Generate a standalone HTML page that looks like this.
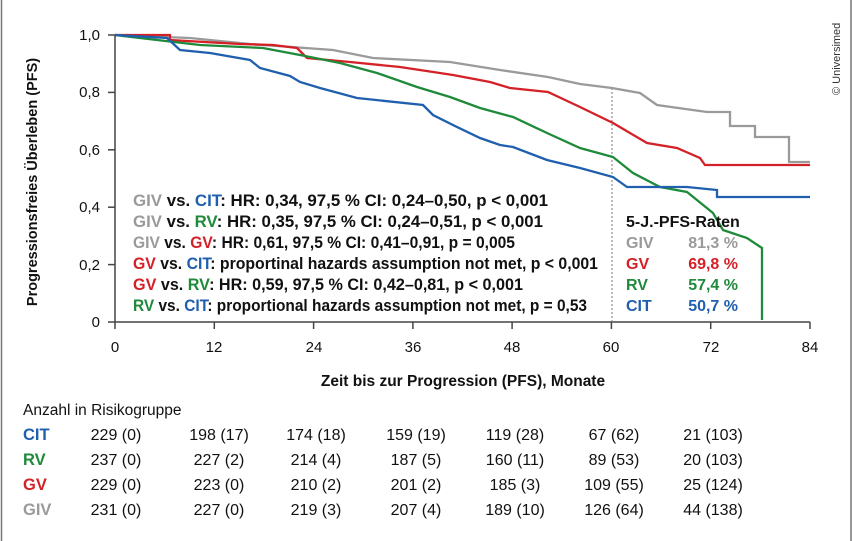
<!DOCTYPE html>
<html><head><meta charset="utf-8"><style>
html,body{margin:0;padding:0;background:#fff;}
svg{display:block;font-family:"Liberation Sans",sans-serif;}
</style></head><body>
<svg width="854" height="541" viewBox="0 0 854 541" xmlns="http://www.w3.org/2000/svg">
<rect x="0" y="0" width="854" height="541" fill="#fff"/>
<line x1="1.5" y1="0" x2="1.5" y2="541" stroke="#777" stroke-width="1.5"/>
<line x1="851" y1="0" x2="851" y2="541" stroke="#777" stroke-width="1.5"/>
<text transform="translate(840,95) rotate(-90)" font-size="11" fill="#333">© Universimed</text>

<g stroke="#444" stroke-width="1.5" fill="none">
<line x1="115" y1="35" x2="115" y2="322"/>
<line x1="115" y1="322" x2="810" y2="322"/>
<line x1="108" y1="35" x2="115" y2="35"/>
<line x1="108" y1="92.4" x2="115" y2="92.4"/>
<line x1="108" y1="149.8" x2="115" y2="149.8"/>
<line x1="108" y1="207.2" x2="115" y2="207.2"/>
<line x1="108" y1="264.6" x2="115" y2="264.6"/>
<line x1="108" y1="322" x2="115" y2="322"/>
<line x1="115" y1="322" x2="115" y2="329"/>
<line x1="214.3" y1="322" x2="214.3" y2="329"/>
<line x1="313.6" y1="322" x2="313.6" y2="329"/>
<line x1="412.9" y1="322" x2="412.9" y2="329"/>
<line x1="512.1" y1="322" x2="512.1" y2="329"/>
<line x1="611.4" y1="322" x2="611.4" y2="329"/>
<line x1="710.7" y1="322" x2="710.7" y2="329"/>
<line x1="810" y1="322" x2="810" y2="329"/>
</g>
<line x1="612" y1="88" x2="612" y2="322" stroke="#777" stroke-width="1" stroke-dasharray="2,2"/>

<g font-size="15" fill="#111" text-anchor="end">
<text x="100" y="40">1,0</text><text x="100" y="97">0,8</text><text x="100" y="155">0,6</text>
<text x="100" y="212">0,4</text><text x="100" y="270">0,2</text><text x="100" y="327">0</text>
</g>
<g font-size="15" fill="#111" text-anchor="middle">
<text x="115" y="352">0</text><text x="214" y="352">12</text><text x="314" y="352">24</text>
<text x="413" y="352">36</text><text x="512" y="352">48</text><text x="611" y="352">60</text>
<text x="711" y="352">72</text><text x="810" y="352">84</text>
</g>
<text x="463" y="386" font-size="15.5" font-weight="bold" text-anchor="middle" fill="#111">Zeit bis zur Progression (PFS), Monate</text>
<text transform="translate(37,182) rotate(-90)" font-size="14.5" font-weight="bold" text-anchor="middle" fill="#111">Progressionsfreies Überleben (PFS)</text>

<g fill="none" stroke-width="2.3">
<polyline stroke="#9a9a9a" points="115,35 140,36 190,38 250,44 333,50 373,58 450,62 500,70 548,77 580,84 612,88 640,93 657,105 707,112 730,112 730,126 755,126 755,137 789,137 789,162 810,162"/>
<polyline stroke="#d42027" points="115,35 170,35 170,40 240,44 273,45 297,48 307,58 350,62 400,67 453,75 490,82 510,88 548,92 580,107 613,123 647,143 677,148 700,158 705,165 730,165 810,165"/>
<polyline stroke="#1e8a3a" points="115,35 157,40 200,45 263,48 300,55 340,63 377,73 417,87 450,97 480,108 513,117 547,133 580,148 613,157 633,173 660,187 687,192 713,213 723,230 747,238 762,248 762,320"/>
<polyline stroke="#1f5fad" points="115,35 167,38 180,50 210,53 250,60 260,68 290,76 300,82 320,88 357,98 423,105 433,115 457,127 480,138 500,145 513,147 547,160 580,168 613,177 627,187 687,187 717,190 717,197 810,197"/>
</g>

<g font-size="16.5" font-weight="bold" fill="#111" lengthAdjust="spacingAndGlyphs">
<text x="133" y="206" textLength="415" lengthAdjust="spacingAndGlyphs"><tspan fill="#9a9a9a">GIV</tspan> vs. <tspan fill="#1f5fad">CIT</tspan>: HR: 0,34, 97,5 % CI: 0,24–0,50, p &lt; 0,001</text>
<text x="133" y="227" textLength="410" lengthAdjust="spacingAndGlyphs"><tspan fill="#9a9a9a">GIV</tspan> vs. <tspan fill="#1e8a3a">RV</tspan>: HR: 0,35, 97,5 % CI: 0,24–0,51, p &lt; 0,001</text>
<text x="133" y="248" textLength="382" lengthAdjust="spacingAndGlyphs"><tspan fill="#9a9a9a">GIV</tspan> vs. <tspan fill="#d42027">GV</tspan>: HR: 0,61, 97,5 % CI: 0,41–0,91, p = 0,005</text>
<text x="133" y="269" textLength="465" lengthAdjust="spacingAndGlyphs"><tspan fill="#d42027">GV</tspan> vs. <tspan fill="#1f5fad">CIT</tspan>: proportinal hazards assumption not met, p &lt; 0,001</text>
<text x="133" y="290" textLength="390" lengthAdjust="spacingAndGlyphs"><tspan fill="#d42027">GV</tspan> vs. <tspan fill="#1e8a3a">RV</tspan>: HR: 0,59, 97,5 % CI: 0,42–0,81, p &lt; 0,001</text>
<text x="133" y="311" textLength="454" lengthAdjust="spacingAndGlyphs"><tspan fill="#1e8a3a">RV</tspan> vs. <tspan fill="#1f5fad">CIT</tspan>: proportional hazards assumption not met, p = 0,53</text>
</g>
<g font-size="16" font-weight="bold" fill="#111">
<text x="626" y="227">5-J.-PFS-Raten</text>
<text x="626" y="248" fill="#9a9a9a">GIV</text><text x="738" y="248" fill="#9a9a9a" text-anchor="end">81,3 %</text>
<text x="626" y="269" fill="#d42027">GV</text><text x="738" y="269" fill="#d42027" text-anchor="end">69,8 %</text>
<text x="626" y="290" fill="#1e8a3a">RV</text><text x="738" y="290" fill="#1e8a3a" text-anchor="end">57,4 %</text>
<text x="626" y="311" fill="#1f5fad">CIT</text><text x="738" y="311" fill="#1f5fad" text-anchor="end">50,7 %</text>
</g>

<text x="23" y="415" font-size="15.5" fill="#111">Anzahl in Risikogruppe</text>
<g font-size="16.5" font-weight="bold">
<text x="23" y="440" fill="#1f5fad">CIT</text>
<text x="23" y="465" fill="#1e8a3a">RV</text>
<text x="23" y="490" fill="#d42027">GV</text>
<text x="23" y="515" fill="#9a9a9a">GIV</text>
</g>
<g font-size="16" fill="#111" text-anchor="middle">
<text x="116" y="440">229 (0)</text><text x="219" y="440">198 (17)</text><text x="316" y="440">174 (18)</text><text x="416" y="440">159 (19)</text><text x="515" y="440">119 (28)</text><text x="614" y="440">67 (62)</text><text x="713" y="440">21 (103)</text>
<text x="116" y="465">237 (0)</text><text x="219" y="465">227 (2)</text><text x="316" y="465">214 (4)</text><text x="416" y="465">187 (5)</text><text x="515" y="465">160 (11)</text><text x="614" y="465">89 (53)</text><text x="713" y="465">20 (103)</text>
<text x="116" y="490">229 (0)</text><text x="219" y="490">223 (0)</text><text x="316" y="490">210 (2)</text><text x="416" y="490">201 (2)</text><text x="515" y="490">185 (3)</text><text x="614" y="490">109 (55)</text><text x="713" y="490">25 (124)</text>
<text x="116" y="515">231 (0)</text><text x="219" y="515">227 (0)</text><text x="316" y="515">219 (3)</text><text x="416" y="515">207 (4)</text><text x="515" y="515">189 (10)</text><text x="614" y="515">126 (64)</text><text x="713" y="515">44 (138)</text>
</g>
</svg>
</body></html>
